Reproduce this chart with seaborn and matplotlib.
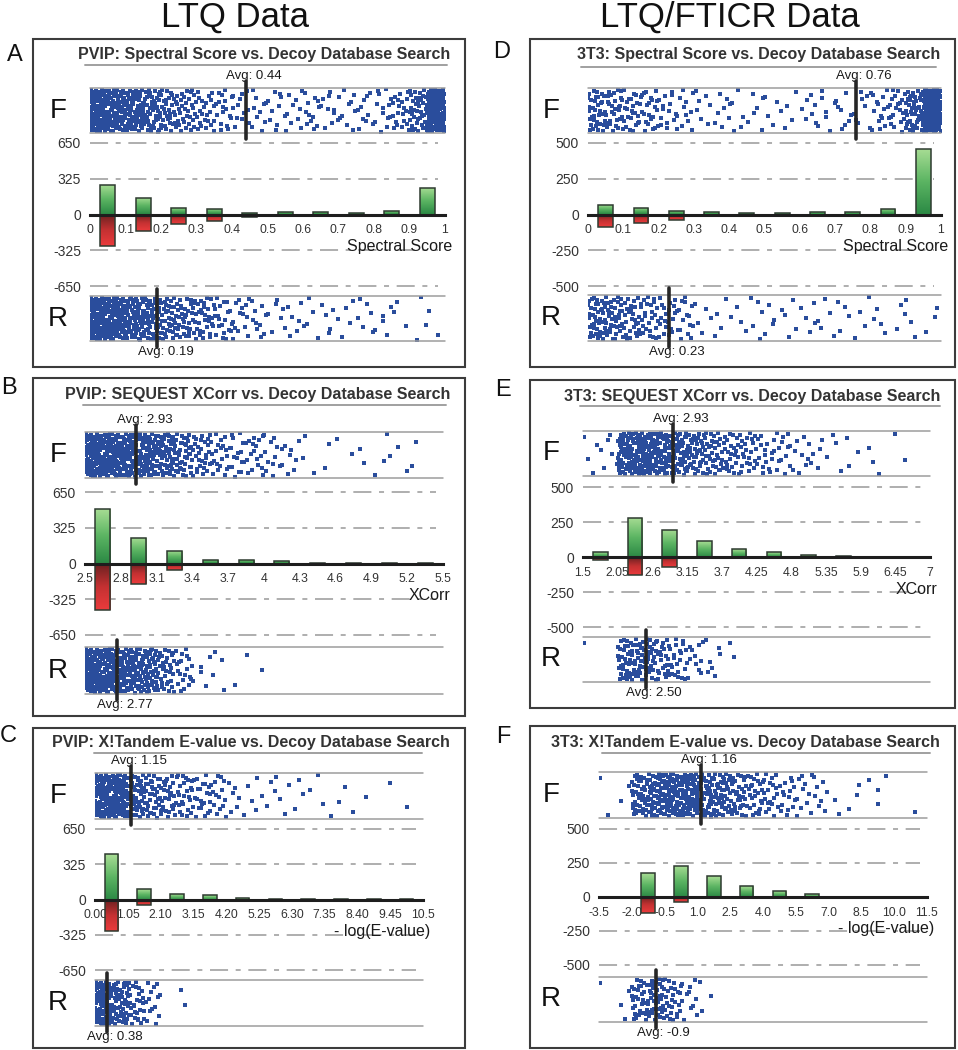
import numpy as np
import pandas as pd
import matplotlib
matplotlib.use("Agg")
import matplotlib.pyplot as plt
from matplotlib.colors import LinearSegmentedColormap
from matplotlib.lines import Line2D
from matplotlib.patches import Rectangle
import seaborn as sns

# ---------------- values ----------------
# counts per histogram bin (forward = green, reverse/decoy = red)
# strip counts = number of visible dots per half-bin in the F / R scatter strips
a_title = "PVIP: Spectral Score vs. Decoy Database Search"
a_edges = [0, 0.1, 0.2, 0.3, 0.4, 0.5, 0.6, 0.7, 0.8, 0.9, 1]
a_ticklabels = ["0", "0.1", "0.2", "0.3", "0.4", "0.5", "0.6", "0.7", "0.8", "0.9", "1"]
a_xlabel = "Spectral Score"
a_fwd = [265, 150, 63, 48, 10, 24, 21, 18, 33, 241]
a_rev = [-283, -150, -90, -60, -27, -8, -6, -6, -4, -2]
a_fwd_strip = [95, 75, 60, 50, 35, 28, 22, 18, 12, 10, 10, 10, 12, 10, 10, 10, 13, 20, 38, 115]
a_rev_strip = [95, 85, 62, 50, 40, 32, 27, 20, 14, 10, 7, 6, 5, 6, 4, 6, 5, 3, 3, 2]
a_fwd_avg, a_rev_avg = "0.44", "0.19"

b_title = "PVIP: SEQUEST XCorr vs. Decoy Database Search"
b_edges = [2.5, 2.8, 3.1, 3.4, 3.7, 4.0, 4.3, 4.6, 4.9, 5.2, 5.5]
b_ticklabels = ["2.5", "2.8", "3.1", "3.4", "3.7", "4", "4.3", "4.6", "4.9", "5.2", "5.5"]
b_xlabel = "XCorr"
b_fwd = [500, 230, 113, 34, 34, 20, 5, 3, 3, 1]
b_rev = [-426, -184, -61, -2, -1, 0, 0, 0, 0, 0]
b_fwd_strip = [95, 90, 80, 65, 50, 40, 28, 20, 18, 16, 12, 8, 3, 2, 2, 2, 3, 3, 2, 0]
b_rev_strip = [95, 90, 75, 58, 35, 20, 5, 4, 1, 2, 0, 0, 0, 0, 0, 0, 0, 0, 0, 0]
b_fwd_avg, b_rev_avg = "2.93", "2.77"

c_title = "PVIP: X!Tandem E-value vs. Decoy Database Search"
c_edges = [0.0, 1.05, 2.10, 3.15, 4.20, 5.25, 6.30, 7.35, 8.40, 9.45, 10.5]
c_ticklabels = ["0.00", "1.05", "2.10", "3.15", "4.20", "5.25", "6.30", "7.35", "8.40", "9.45", "10.5"]
c_xlabel = "- log(E-value)"
c_fwd = [418, 93, 53, 37, 10, 8, 6, 3, 1, 1]
c_rev = [-294, -53, -3, -1, 0, 0, 0, 0, 0, 0]
c_fwd_strip = [90, 85, 45, 36, 28, 24, 20, 17, 6, 5, 4, 4, 3, 3, 2, 2, 1, 1, 0, 1]
c_rev_strip = [90, 50, 30, 15, 0, 2, 0, 0, 0, 0, 0, 0, 0, 0, 0, 0, 0, 0, 0, 0]
c_fwd_avg, c_rev_avg = "1.15", "0.38"

d_title = "3T3: Spectral Score vs. Decoy Database Search"
d_edges = a_edges
d_ticklabels = a_ticklabels
d_xlabel = "Spectral Score"
d_fwd = [65, 47, 26, 14, 12, 9, 14, 16, 35, 458]
d_rev = [-86, -56, -40, -9, -9, -12, -5, -7, -2, -1]
d_fwd_strip = [35, 30, 25, 22, 14, 12, 7, 7, 6, 6, 5, 4, 7, 7, 8, 8, 15, 20, 45, 150]
d_rev_strip = [40, 36, 28, 24, 20, 16, 5, 4, 4, 5, 5, 4, 5, 5, 4, 4, 4, 3, 3, 3]
d_fwd_avg, d_rev_avg = "0.76", "0.23"

e_title = "3T3: SEQUEST XCorr vs. Decoy Database Search"
e_edges = [1.5, 2.05, 2.6, 3.15, 3.7, 4.25, 4.8, 5.35, 5.9, 6.45, 7.0]
e_ticklabels = ["1.5", "2.05", "2.6", "3.15", "3.7", "4.25", "4.8", "5.35", "5.9", "6.45", "7"]
e_xlabel = "XCorr"
e_fwd = [33, 279, 195, 112, 57, 33, 14, 5, 2, 1]
e_rev = [-22, -126, -74, -5, -1, 0, 0, 0, 0, 0]
e_fwd_strip = [4, 6, 60, 68, 60, 50, 40, 34, 26, 22, 16, 14, 8, 6, 4, 3, 2, 2, 1, 0]
e_rev_strip = [1, 0, 38, 40, 30, 22, 11, 7, 2, 0, 0, 0, 0, 0, 0, 0, 0, 0, 0, 0]
e_fwd_avg, e_rev_avg = "2.93", "2.50"

f_title = "3T3: X!Tandem E-value vs. Decoy Database Search"
f_edges = [-3.5, -2.0, -0.5, 1.0, 2.5, 4.0, 5.5, 7.0, 8.5, 10.0, 11.5]
f_ticklabels = ["-3.5", "-2.0", "-0.5", "1.0", "2.5", "4.0", "5.5", "7.0", "8.5", "10.0", "11.5"]
f_xlabel = "- log(E-value)"
f_fwd = [0, 173, 230, 153, 79, 41, 20, 3, 1, 0]
f_rev = [0, -120, -38, 0, 0, 0, 0, 0, 0, 0]
f_fwd_strip = [2, 2, 40, 58, 64, 60, 52, 44, 32, 26, 19, 15, 11, 8, 2, 3, 2, 2, 0, 1]
f_rev_strip = [1, 3, 30, 36, 25, 11, 3, 0, 0, 0, 0, 0, 0, 0, 0, 0, 0, 0, 0, 0]
f_fwd_avg, f_rev_avg = "1.16", "-0.9"

panels = [
    dict(title=a_title, edges=a_edges, labels=a_ticklabels, xlabel=a_xlabel, fwd=a_fwd, rev=a_rev,
         fstrip=a_fwd_strip, rstrip=a_rev_strip, favg=a_fwd_avg, ravg=a_rev_avg, ymax=650),
    dict(title=b_title, edges=b_edges, labels=b_ticklabels, xlabel=b_xlabel, fwd=b_fwd, rev=b_rev,
         fstrip=b_fwd_strip, rstrip=b_rev_strip, favg=b_fwd_avg, ravg=b_rev_avg, ymax=650),
    dict(title=c_title, edges=c_edges, labels=c_ticklabels, xlabel=c_xlabel, fwd=c_fwd, rev=c_rev,
         fstrip=c_fwd_strip, rstrip=c_rev_strip, favg=c_fwd_avg, ravg=c_rev_avg, ymax=650),
    dict(title=d_title, edges=d_edges, labels=d_ticklabels, xlabel=d_xlabel, fwd=d_fwd, rev=d_rev,
         fstrip=d_fwd_strip, rstrip=d_rev_strip, favg=d_fwd_avg, ravg=d_rev_avg, ymax=500),
    dict(title=e_title, edges=e_edges, labels=e_ticklabels, xlabel=e_xlabel, fwd=e_fwd, rev=e_rev,
         fstrip=e_fwd_strip, rstrip=e_rev_strip, favg=e_fwd_avg, ravg=e_rev_avg, ymax=500),
    dict(title=f_title, edges=f_edges, labels=f_ticklabels, xlabel=f_xlabel, fwd=f_fwd, rev=f_rev,
         fstrip=f_fwd_strip, rstrip=f_rev_strip, favg=f_fwd_avg, ravg=f_rev_avg, ymax=500),
]

# pixel layout of each boxed panel
layouts = [
    dict(letter="A", letter_xy=(15, 55), box=(33, 39, 465, 367), ax_x=(90, 445), title_y=55,
         rule=(85, 447, 65), fs=(88, 133), hist=(143, 286), rs=(296, 341), fr_x=58),
    dict(letter="B", letter_xy=(9, 388), box=(33, 378, 465, 716), ax_x=(85, 443), title_y=395,
         rule=(83, 446, 405), fs=(432, 478), hist=(492, 635), rs=(647, 694), fr_x=58),
    dict(letter="C", letter_xy=(8, 736), box=(33, 728, 465, 1048), ax_x=(95, 423), title_y=743,
         rule=(94, 422, 753), fs=(773, 819), hist=(829, 970), rs=(980, 1026), fr_x=58),
    dict(letter="D", letter_xy=(502, 52), box=(530, 39, 955, 367), ax_x=(588, 941), title_y=55,
         rule=(581, 936, 67), fs=(88, 133), hist=(143, 286), rs=(295, 341), fr_x=551),
    dict(letter="E", letter_xy=(503, 390), box=(530, 380, 955, 708), ax_x=(583, 930), title_y=397,
         rule=(580, 940, 406), fs=(431, 476), hist=(487, 627), rs=(637, 682), fr_x=551),
    dict(letter="F", letter_xy=(503, 737), box=(530, 726, 955, 1048), ax_x=(599, 927), title_y=742,
         rule=(602, 930, 753), fs=(772, 818), hist=(829, 965), rs=(977, 1022), fr_x=551),
]

W, H = 958, 1050
PT = 72 / 100  # points per pixel
DOT = "#2a4d9c"
GREEN = LinearSegmentedColormap.from_list("g", ["#2c8a45", "#5cb563", "#a8dd94"])
RED = LinearSegmentedColormap.from_list("r", ["#ea3b3c", "#c43132", "#6b2121"])

sns.set_theme(style="white")
plt.rcParams["font.family"] = ["Liberation Sans", "DejaVu Sans"]
plt.rcParams["lines.scale_dashes"] = False

fig = plt.figure(figsize=(W / 100, H / 100), dpi=100)


def fxy(x, y):
    return x / W, 1 - y / H


def px_axes(x0, x1, top, bot):
    ax = fig.add_axes([x0 / W, 1 - bot / H, (x1 - x0) / W, (bot - top) / H])
    ax.set_facecolor("none")
    return ax


def halton(k, base):
    f, r = 1.0, 0.0
    while k > 0:
        f /= base
        r += f * (k % base)
        k //= base
    return r


def strip_points(edges, counts):
    # spread the dots of each half-bin evenly over the strip (Halton sequence)
    fine = np.linspace(edges[0], edges[-1], len(counts) + 1)
    xs, ys, k = [], [], 7
    for lo, hi, n in zip(fine[:-1], fine[1:], counts):
        for _ in range(n):
            k += 1
            xs.append(lo + halton(k, 2) * (hi - lo))
            ys.append(0.03 + halton(k, 3) * 0.94)
    return pd.DataFrame({"score": xs, "jitter": ys})


def draw_strip(edges, counts, avg, top, bot, ax_x, letter, fr_x, is_fwd):
    ax = px_axes(ax_x[0], ax_x[1], top, bot)
    pts = strip_points(edges, counts)
    sns.scatterplot(data=pts, x="score", y="jitter", marker="s", s=5.2, color=DOT,
                    linewidth=0, ax=ax, legend=False)
    ax.set_xlim(edges[0], edges[-1])
    ax.set_ylim(0, 1)
    ax.axis("off")
    for yy in (0, 1):
        ax.axhline(yy, color="#9c9c9c", lw=1.1, clip_on=False, zorder=1)
    h = bot - top
    ax.axvline(float(avg), ymin=-6 / h, ymax=1 + 7 / h, color="#262626", lw=2.6,
               clip_on=False, zorder=5)
    dy = 12 if is_fwd else -11
    ax.annotate(f"Avg: {avg}", xy=(float(avg), 1 if is_fwd else 0),
                xycoords=("data", "axes fraction"), xytext=(8 * PT, dy * PT),
                textcoords="offset points", ha="center", va="center", fontsize=9.5,
                color="#1a1a1a", annotation_clip=False)
    fig.text(*fxy(fr_x, (top + bot) / 2), letter, fontsize=20, ha="center", va="center",
             color="#111111")


def draw_hist(p, lay):
    x0, x1 = lay["ax_x"]
    top, bot = lay["hist"]
    ax = px_axes(x0, x1, top, bot)
    edges = np.array(p["edges"], dtype=float)
    centers = (edges[:-1] + edges[1:]) / 2
    df = pd.DataFrame({
        "center": np.r_[centers, centers],
        "count": np.r_[p["fwd"], p["rev"]],
        "side": ["fwd"] * len(centers) + ["rev"] * len(centers),
    })
    sns.barplot(data=df, x="center", y="count", hue="side", native_scale=True, width=0.42,
                dodge=False, errorbar=None, legend=False,
                palette={"fwd": "#5cb563", "rev": "#c43132"}, ax=ax)
    grad = np.linspace(0, 1, 64).reshape(-1, 1)
    for bar in list(ax.patches):
        bx, bw = bar.get_x(), bar.get_width()
        by, bh = bar.get_y(), bar.get_height()
        bar.set_zorder(4)
        bar.set_facecolor("none")
        bar.set_edgecolor("#2e3a30")
        bar.set_linewidth(1.1)
        if bh == 0:
            bar.set_visible(False)
            continue
        im = ax.imshow(grad, cmap=GREEN if bh > 0 else RED, origin="lower", aspect="auto",
                       extent=[bx, bx + bw, min(by, by + bh), max(by, by + bh)],
                       interpolation="bilinear", zorder=3)
        im.set_clip_path(bar)
    L = p["ymax"]
    ax.set_xlim(edges[0], edges[-1])
    ax.set_ylim(-L, L)
    ax.set_aspect("auto")
    ax.set(xlabel="", ylabel="")
    for yy in (L, L / 2, -L / 2, -L):
        ax.axhline(yy, xmax=0.98, color="#a8a8a8", lw=1.3, dashes=(13, 5.5, 3.6, 5.5),
                   clip_on=False, zorder=0.5)
    for s in ("top", "right", "left"):
        ax.spines[s].set_visible(False)
    sp = ax.spines["bottom"]
    sp.set_position(("data", 0))
    sp.set_linewidth(2.2)
    sp.set_color("#1e1e1e")
    sp.set_zorder(6)
    ax.set_xticks(edges)
    ax.set_xticklabels(p["labels"])
    ax.tick_params(axis="x", direction="inout", length=7, width=1.3, color="#1e1e1e",
                   pad=3.5, labelsize=8.8, labelcolor="#333333")
    ax.set_yticks([L, L / 2, 0, -L / 2, -L])
    ax.set_yticklabels([f"{int(v)}" for v in (L, L / 2, 0, -L / 2, -L)])
    ax.tick_params(axis="y", length=0, pad=6.5, labelsize=10, labelcolor="#333333")
    ax.xaxis.set_zorder(1.5)
    zero_y = (top + bot) / 2
    fig.text(*fxy(x1 + 7, zero_y + 32), p["xlabel"], fontsize=11.5, ha="right", va="center",
             color="#1a1a1a")


fig.text(*fxy(235, 17), "LTQ Data", fontsize=25, ha="center", va="center", color="#111111")
fig.text(*fxy(730, 17), "LTQ/FTICR Data", fontsize=25, ha="center", va="center", color="#111111")

for p, lay in zip(panels, layouts):
    bx0, by0, bx1, by1 = lay["box"]
    fig.add_artist(Rectangle(fxy(bx0, by1), (bx1 - bx0) / W, (by1 - by0) / H,
                             transform=fig.transFigure, fill=False, ec="#3c3c3c", lw=1.5))
    fig.text(*fxy(*lay["letter_xy"]), lay["letter"], fontsize=17, ha="center", va="center",
             color="#111111")
    fig.text(*fxy(bx1 - 15, lay["title_y"]), p["title"], fontsize=11.5, fontweight="bold",
             ha="right", va="center", color="#333333")
    rx0, rx1, ry = lay["rule"]
    fig.add_artist(Line2D([rx0 / W, rx1 / W], [1 - ry / H] * 2, transform=fig.transFigure,
                          color="#a0a0a0", lw=1.4))
    draw_strip(p["edges"], p["fstrip"], p["favg"], *lay["fs"], lay["ax_x"], "F", lay["fr_x"], True)
    draw_hist(p, lay)
    draw_strip(p["edges"], p["rstrip"], p["ravg"], *lay["rs"], lay["ax_x"], "R", lay["fr_x"], False)

fig.savefig("out.png", dpi=100)
